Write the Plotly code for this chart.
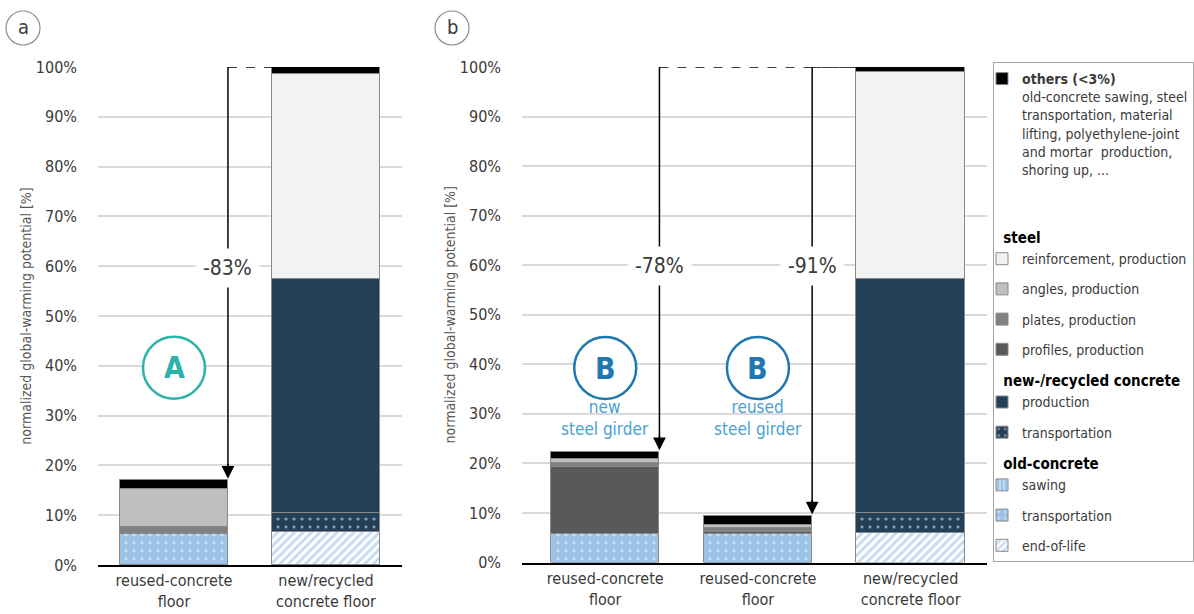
import plotly.graph_objects as go

# ---------------------------------------------------------------- data
# panel a: reused-concrete floor vs. new/recycled concrete floor
cats_a = ["reused-concrete<br>floor", "new/recycled<br>concrete floor"]
# panel b: reused floor with new girder, with reused girder, new floor
cats_b = ["reused-concrete<br>floor", "reused-concrete<br>floor", "new/recycled<br>concrete floor"]

# normalized GWP shares [%], stacked bottom -> top
a_end_of_life = [0.0, 6.7]
a_old_transport = [6.2, 0.0]
a_sawing = [0.0, 0.0]
a_new_transport = [0.0, 3.7]
a_new_production = [0.0, 47.0]
a_profiles = [0.0, 0.0]
a_plates = [1.35, 0.0]
a_angles = [7.65, 0.0]
a_reinforcement = [0.0, 41.2]
a_others = [1.8, 1.4]

b_end_of_life = [0.0, 0.0, 5.9]
b_old_transport = [5.7, 5.7, 0.0]
b_sawing = [0.0, 0.0, 0.0]
b_new_transport = [0.0, 0.0, 4.0]
b_new_production = [0.0, 0.0, 47.4]
b_profiles = [13.5, 0.5, 0.0]
b_plates = [0.95, 0.8, 0.0]
b_angles = [0.8, 0.6, 0.0]
b_reinforcement = [0.0, 0.0, 41.6]
b_others = [1.4, 1.8, 1.1]

y_ticks = [0, 10, 20, 30, 40, 50, 60, 70, 80, 90, 100]
y_ticktext = [f"{v}%" for v in y_ticks]

# ---------------------------------------------------------------- style
W, H = 1194, 614
FONT = "DejaVu Sans Condensed, DejaVu Sans, sans-serif"
TXT = "#3a3a3a"
GRID = "#d9d9d9"
OUTLINE = "#8a8a8a"
NAVY = "#243f58"
LBLUE = "#9dc3e6"
HATCH = "#8fb9e2"
TEAL = "#2bb3a9"
BLUE = "#1f78b0"
BLUE_TXT = "#4a9fd5"
BAR_W = 0.71


def fx(p):
    return p / W


def fy(p):
    return 1 - p / H


others_name = ("<b>others (&lt;3%)</b><br>old-concrete sawing, steel<br>transportation, material"
               "<br>lifting, polyethylene-joint<br>and mortar  production,<br>shoring up, ...<br> <br> ")

# (key, legend label, group title, legend rank, fill settings)
segments = [
    ("end_of_life", "end-of-life", None, 10,
     dict(color="white", pattern=dict(shape="/", bgcolor="white", fgcolor=HATCH, size=6, solidity=0.5))),
    ("old_transport", "transportation", None, 9,
     dict(color=LBLUE, pattern=dict(shape=".", bgcolor=LBLUE, fgcolor="white", size=8, solidity=0.12))),
    ("sawing", "sawing", "old-concrete", 8,
     dict(color=LBLUE, pattern=dict(shape="|", bgcolor=LBLUE, fgcolor="white", size=5, solidity=0.35))),
    ("new_transport", "transportation", None, 7,
     dict(color=NAVY, pattern=dict(shape=".", bgcolor=NAVY, fgcolor="white", size=8, solidity=0.12))),
    ("new_production", "production", "new-/recycled concrete", 6, dict(color=NAVY)),
    ("profiles", "profiles, production", None, 5, dict(color="#595959")),
    ("plates", "plates, production", None, 4, dict(color="#808080")),
    ("angles", "angles, production", None, 3, dict(color="#bfbfbf")),
    ("reinforcement", "reinforcement, production", "steel", 2, dict(color="#f2f2f2")),
    ("others", others_name, None, 1, dict(color="black")),
]

data_a = dict(end_of_life=a_end_of_life, old_transport=a_old_transport, sawing=a_sawing,
              new_transport=a_new_transport, new_production=a_new_production, profiles=a_profiles,
              plates=a_plates, angles=a_angles, reinforcement=a_reinforcement, others=a_others)
data_b = dict(end_of_life=b_end_of_life, old_transport=b_old_transport, sawing=b_sawing,
              new_transport=b_new_transport, new_production=b_new_production, profiles=b_profiles,
              plates=b_plates, angles=b_angles, reinforcement=b_reinforcement, others=b_others)

fig = go.Figure()
for key, label, gtitle, rank, fill in segments:
    marker = dict(fill)
    marker["line"] = dict(color=OUTLINE, width=1)
    common = dict(legendgroup=key, legendrank=rank, width=BAR_W, hoverinfo="skip")
    if gtitle:
        common["legendgrouptitle"] = dict(text=f"&nbsp;<b>{gtitle}</b>")
    fig.add_trace(go.Bar(x=list(range(len(cats_a))), y=data_a[key], name=label, marker=marker,
                         xaxis="x", yaxis="y", showlegend=True, **common))
    fig.add_trace(go.Bar(x=list(range(len(cats_b))), y=data_b[key], name=label, marker=marker,
                         xaxis="x2", yaxis="y2", showlegend=False, **common))

totals_a = [sum(data_a[k][i] for k in data_a) for i in range(len(cats_a))]
totals_b = [sum(data_b[k][i] for k in data_b) for i in range(len(cats_b))]

# ---------------------------------------------------------------- axes
yaxis_common = dict(range=[0, 100], tickvals=y_ticks, ticktext=y_ticktext, showgrid=True,
                    gridcolor=GRID, gridwidth=1.5, zeroline=False, showline=False, ticks="",
                    ticklabelstandoff=20, tickfont=dict(family=FONT, size=16, color=TXT),
                    title=dict(text="normalized global-warming potential [%]", standoff=0,
                               font=dict(family=FONT, size=14, color="#555555")))
xaxis_common = dict(showline=True, linecolor="black", linewidth=2, showgrid=False, zeroline=False,
                    ticks="", tickfont=dict(family=FONT, size=16, color=TXT))

fig.update_layout(
    width=W, height=H, margin=dict(l=0, r=0, t=0, b=0, autoexpand=False),
    paper_bgcolor="white", plot_bgcolor="white", barmode="stack", bargap=0,
    xaxis=dict(domain=[fx(98), fx(402)], range=[-0.5, 1.5], tickvals=[0, 1], ticktext=cats_a,
               anchor="y", **xaxis_common),
    yaxis=dict(domain=[fy(565), fy(67)], anchor="x", **yaxis_common),
    xaxis2=dict(domain=[fx(522), fx(987)], range=[-0.545, 2.5], tickvals=[0, 1, 2], ticktext=cats_b,
                anchor="y2", **xaxis_common),
    yaxis2=dict(domain=[fy(562.5), fy(67)], anchor="x2", **yaxis_common),
    legend=dict(x=fx(993), xanchor="left", y=fy(62), yanchor="top", bgcolor="white",
                bordercolor="#a6a6a6", borderwidth=1, traceorder="grouped", tracegroupgap=9,
                valign="top", indentation=-12,
                font=dict(family=FONT, size=14, color=TXT),
                grouptitlefont=dict(family=FONT, size=15, color="black")),
)

shapes = []
annotations = []

# circled panel letters
for cx, letter in [(23, "a"), (452, "b")]:
    shapes.append(dict(type="circle", xref="paper", yref="paper", x0=fx(cx - 17), x1=fx(cx + 17),
                       y0=fy(28 + 17), y1=fy(28 - 17), line=dict(color="#8c8c8c", width=1.2)))
    annotations.append(dict(xref="paper", yref="paper", x=fx(cx), y=fy(27), text=letter,
                            xanchor="center", yanchor="middle", showarrow=False,
                            font=dict(family=FONT, size=20, color=TXT)))


def reduction_arrow(xref, yref, x_start, x_end, total, label_y):
    """Dashed 100 % reference, vertical drop to the bar top and the reduction label."""
    shapes.append(dict(type="line", xref=xref, yref=yref, x0=x_start, x1=x_end, y0=100, y1=100,
                       line=dict(color="black", width=1.5, dash="dash")))
    shapes.append(dict(type="line", xref=xref, yref=yref, x0=x_start, x1=x_start, y0=100,
                       y1=total + 2.5, line=dict(color="black", width=1.5)))
    annotations.append(dict(xref=xref, yref=yref, x=x_start, y=total + 0.3, ax=0, ay=-16,
                            text="", showarrow=True, arrowhead=2, arrowsize=1.7, arrowwidth=1.5,
                            arrowcolor="black", standoff=0, startstandoff=0))
    pct = round(100 - total)
    annotations.append(dict(xref=xref, yref=yref, x=x_start, y=label_y, text=f"-{pct}%",
                            showarrow=False, bgcolor="white", borderpad=7,
                            font=dict(family=FONT, size=21, color=TXT)))


half = BAR_W / 2
reduction_arrow("x", "y", 0 + half, 1 - half, totals_a[0], 59.6)
reduction_arrow("x2", "y2", 0 + half, 2 - half, totals_b[0], 59.8)
reduction_arrow("x2", "y2", 1 + half, 2 - half, totals_b[1], 59.8)


def badge(xref, yref, xc, yc, letter, color):
    shapes.append(dict(type="circle", xref=xref, yref=yref, xsizemode="pixel", ysizemode="pixel",
                       xanchor=xc, yanchor=yc, x0=-31, x1=31, y0=-31, y1=31,
                       line=dict(color=color, width=2.5), fillcolor="white"))
    annotations.append(dict(xref=xref, yref=yref, x=xc, y=yc, text=f"<b>{letter}</b>",
                            showarrow=False, font=dict(family=FONT, size=30, color=color)))


badge("x", "y", 0, 39.6, "A", TEAL)
badge("x2", "y2", 0, 39.25, "B", BLUE)
badge("x2", "y2", 1, 39.25, "B", BLUE)
for xc, txt in [(0, "new<br>steel girder"), (1, "reused<br>steel girder")]:
    annotations.append(dict(xref="x2", yref="y2", x=xc, y=29.2, text=txt, showarrow=False,
                            font=dict(family=FONT, size=17, color=BLUE_TXT)))

fig.update_layout(shapes=shapes, annotations=annotations)
fig.write_html("out.html")
